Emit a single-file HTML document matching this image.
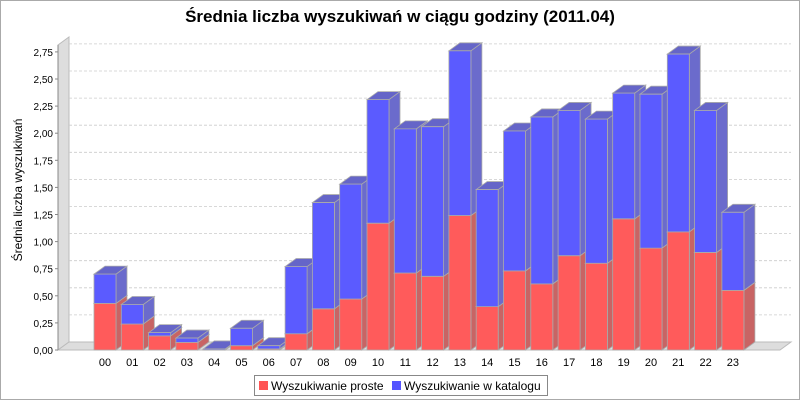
<!DOCTYPE html>
<html><head><meta charset="utf-8"><style>
body{margin:0;background:#fff;}
svg text{font-family:"Liberation Sans",sans-serif;}
</style></head><body>
<svg id="c" width="800" height="400" xmlns="http://www.w3.org/2000/svg">
<rect x="0.5" y="0.5" width="799" height="399" fill="#fff" stroke="#aaa"/>
<text x="400" y="22" text-anchor="middle" font-size="17" font-weight="bold">Średnia liczba wyszukiwań w ciągu godziny (2011.04)</text>
<g id="plot"></g>
<text transform="translate(22,190) rotate(-90)" text-anchor="middle" font-size="12">Średnia liczba wyszukiwań</text>
<g>
<rect x="254.5" y="375.5" width="293" height="20" fill="#fff" stroke="#888"/>
<g><rect x="259" y="381" width="9" height="9" fill="#ff5555"/><text x="271" y="390" font-size="12">Wyszukiwanie proste</text></g>
<g><rect x="392" y="381" width="9" height="9" fill="#5555ff"/><text x="404" y="390" font-size="12">Wyszukiwanie w katalogu</text></g>
</g>
</svg>
<script>
const categories=["00","01","02","03","04","05","06","07","08","09","10","11","12","13","14","15","16","17","18","19","20","21","22","23"];
const redValues=[0.43,0.24,0.13,0.07,0.0,0.04,0.01,0.15,0.38,0.47,1.17,0.71,0.68,1.24,0.40,0.73,0.61,0.87,0.80,1.21,0.94,1.09,0.90,0.55];
const blueValues=[0.27,0.18,0.03,0.04,0.01,0.16,0.03,0.62,0.98,1.06,1.14,1.33,1.38,1.52,1.08,1.29,1.54,1.34,1.33,1.16,1.42,1.64,1.31,0.72];
const tickValues=[0,0.25,0.5,0.75,1,1.25,1.5,1.75,2,2.25,2.5,2.75];
const tickLabels=["0,00","0,25","0,50","0,75","1,00","1,25","1,50","1,75","2,00","2,25","2,50","2,75"];
const NS="http://www.w3.org/2000/svg";
const g=document.getElementById('plot');
const X0=58,Y0=350,DX=11,DY=8,SCALE=108.4,BW=22,STEP=27.3,FIRST=94,RIGHT=780;
function y(v){return Y0-v*SCALE;}
function x(i){return FIRST+i*STEP;}
function el(t,a){const e=document.createElementNS(NS,t);for(const k in a)e.setAttribute(k,a[k]);g.appendChild(e);return e;}
// walls
let w=el('polygon',{points:`${X0},${Y0} ${X0+DX},${Y0-DY} ${X0+DX},37 ${X0},45`,fill:'#ddd',stroke:'#bbb'});

let f=el('polygon',{points:`${X0},${Y0} ${X0+DX},${Y0-DY} ${RIGHT+DX},${Y0-DY} ${RIGHT},${Y0}`,fill:'#ddd',stroke:'#bbb'});

// grid & ticks
tickValues.forEach((v,i)=>{
  const yy=y(v)-DY;
  if(i>0){let l=el('line',{x1:X0+DX,x2:RIGHT+DX,y1:yy,y2:yy,stroke:'#ccc','stroke-dasharray':'3,2','stroke-width':0.8});
  }
  let t=el('line',{x1:X0-3,x2:X0,y1:y(v),y2:y(v),stroke:'#888'});
  
  let tx=el('text',{x:X0-5,y:y(v)+4,'text-anchor':'end','font-size':10});tx.textContent=tickLabels[i];
  
});
let ax=el('line',{x1:X0,x2:X0,y1:45,y2:Y0,stroke:'#888'});

function box(x0,v0,v1,front,side,top,name){
  const yb=y(v0),yt=y(v1);
  const gr=document.createElementNS(NS,'g');g.appendChild(gr);
  
  const mk=(p,c)=>{const e=document.createElementNS(NS,'polygon');e.setAttribute('points',p);e.setAttribute('fill',c);e.setAttribute('stroke','#aaa');e.setAttribute('stroke-width','0.8');gr.appendChild(e);};
  mk(`${x0+BW},${yb} ${x0+BW+DX},${yb-DY} ${x0+BW+DX},${yt-DY} ${x0+BW},${yt}`,side);
  mk(`${x0},${yt} ${x0+DX},${yt-DY} ${x0+BW+DX},${yt-DY} ${x0+BW},${yt}`,top);
  mk(`${x0},${yb} ${x0+BW},${yb} ${x0+BW},${yt} ${x0},${yt}`,front);
}
categories.forEach((c,i)=>{
  const r=redValues[i],b=blueValues[i];
  box(x(i),0,r,'#ff5b5b','#c86464','#a04858','bar-proste-'+c);
  box(x(i),r,r+b,'#5b5bff','#6b6bcc','#6565c8','bar-katalog-'+c);
  let t=el('text',{x:x(i)+BW/2,y:Y0+16,'text-anchor':'middle','font-size':11});t.textContent=c;
  
});
</script>
</body></html>
